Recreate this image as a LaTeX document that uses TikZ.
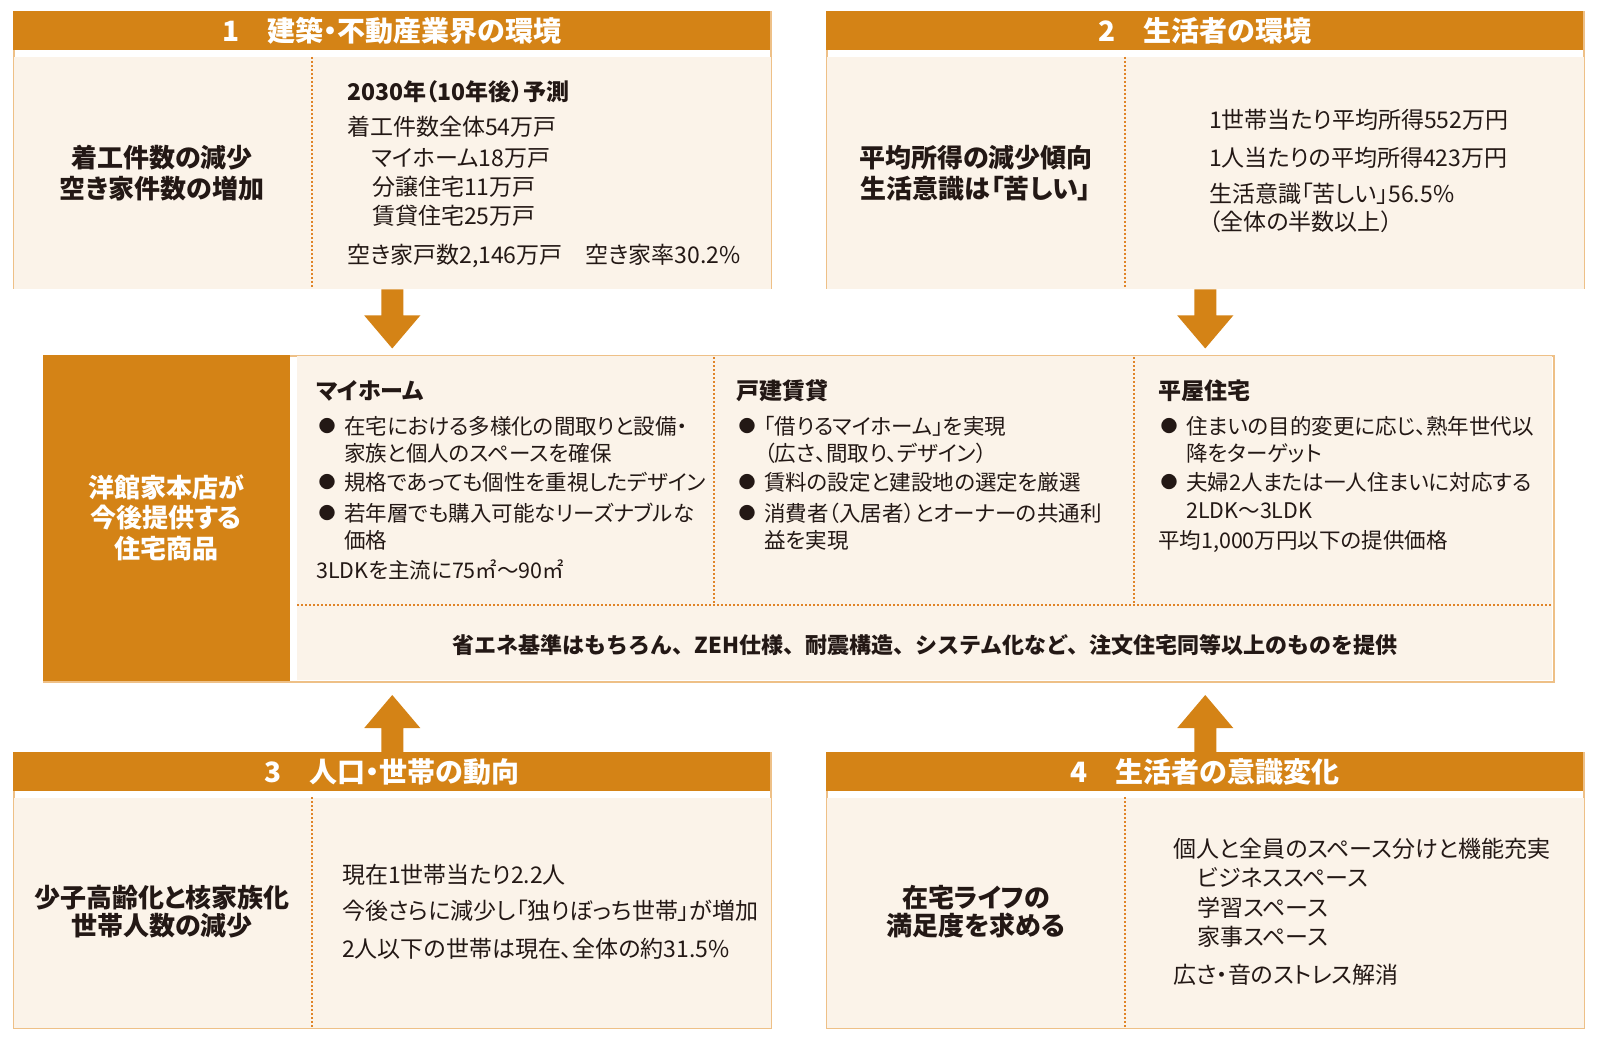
\documentclass[tikz,border=0pt]{standalone}
\usepackage{fontspec}
\setmainfont{Noto Sans CJK JP}[RawFeature={+palt}]
\newfontfamily\jpfull{Noto Sans CJK JP}
\usetikzlibrary{calc}
\definecolor{org}{RGB}{212,131,22}
\definecolor{cream}{RGB}{251,243,233}
\definecolor{bord}{RGB}{238,192,135}
\definecolor{dotc}{RGB}{224,132,40}
\definecolor{ink}{RGB}{35,24,21}
\tikzset{
 tx/.style={inner sep=0pt, text=ink},
 hdrt/.style={tx, text=white, font=\fontsize{28}{30}\selectfont\bfseries, text height=24.6pt, text depth=3.4pt},
 keyt/.style={tx, font=\fontsize{26}{30}\selectfont\bfseries, text height=22.9pt, text depth=3.1pt},
 boxt/.style={tx, anchor=west, font=\fontsize{23}{28}\selectfont, text height=20.2pt, text depth=2.8pt},
 boxtb/.style={tx, anchor=west, font=\fontsize{23}{28}\selectfont\bfseries, text height=20.2pt, text depth=2.8pt},
 colt/.style={tx, anchor=west, font=\fontsize{21.5}{26}\selectfont, text height=18.9pt, text depth=2.6pt},
 colhd/.style={tx, anchor=west, font=\fontsize{23}{28}\selectfont\bfseries, text height=20.2pt, text depth=2.8pt},
 bul/.style={tx, font=\fontsize{17}{20}\selectfont, text height=15pt, text depth=2pt},
 pnlt/.style={tx, text=white, font=\fontsize{26}{30}\selectfont\bfseries, text height=22.9pt, text depth=3.1pt},
 btmt/.style={tx, font=\jpfull\fontsize{22}{26}\selectfont\bfseries, text height=19.4pt, text depth=2.6pt},
 frame/.style={draw=bord, line width=1.5pt, fill=white, inner sep=0pt, anchor=north west, minimum width=757pt, minimum height=277pt},
 hband/.style={fill=org, inner sep=0pt, anchor=north west, minimum width=757pt, minimum height=39pt},
 dotl/.style={dotc, line width=1.6pt, dash pattern=on 1.6pt off 2.4pt},
 downarr/.pic={\fill[org] (-11,0) -- (11,0) -- (11,26) -- (28,26) -- (0,59) -- (-28,26) -- (-11,26) -- cycle;},
 uparr/.pic={\fill[org] (-11,0) -- (11,0) -- (11,-24) -- (28,-24) -- (0,-57) -- (-28,-24) -- (-11,-24) -- cycle;},
}
\begin{document}
\begin{tikzpicture}[x=1pt,y=-1pt]
\useasboundingbox (0,0) rectangle (1600,1040);
% ---------- frames ----------
\node[frame] (b1) at (13,11) {};
\node[frame] (b2) at (826,11) {};
\node[frame, minimum height=275pt] (b3) at (13,752) {};
\node[frame, minimum height=275pt] (b4) at (826,752) {};
\foreach \b in {b1,b2,b3,b4}{
  \fill[cream] ($(\b.north west)+(0.8,46)$) rectangle ($(\b.south east)+(-0.8,-0.8)$);
}
\node[hband] (h1) at (b1.north west) {};
\node[hband] (h2) at (b2.north west) {};
\node[hband] (h3) at (b3.north west) {};
\node[hband] (h4) at (b4.north west) {};
\draw[dotl] (312,57) -- (312,288);
\draw[dotl] (1125,57) -- (1125,288);
\draw[dotl] (312,797) -- (312,1027);
\draw[dotl] (1125,797) -- (1125,1027);
% headers
\node[hdrt] (t1) at (h1.center) {1　建築・不動産業界の環境};
\node[hdrt] (t2) at (h2.center) {2　生活者の環境};
\node[hdrt] (t3) at (h3.center) {3　人口・世帯の動向};
\node[hdrt] (t4) at (h4.center) {4　生活者の意識変化};
% ---------- box 1 ----------
\node[keyt] (k1a) at (162,158) {着工件数の減少};
\node[keyt] (k1b) at (162,189) {空き家件数の増加};
\node[boxtb] (r1a) at (347,92) {2030年（10年後）予測};
\node[boxt] (r1b) at (347,127) {着工件数全体54万戸};
\node[boxt] (r1c) at (372,158) {マイホーム18万戸};
\node[boxt] (r1d) at (372,187) {分譲住宅11万戸};
\node[boxt] (r1e) at (372,216) {賃貸住宅25万戸};
\node[boxt] (r1f) at (347,255) {空き家戸数2,146万戸　空き家率30.2\%};
% ---------- box 2 ----------
\node[keyt] (k2a) at (976,158) {平均所得の減少傾向};
\node[keyt] (k2b) at (976,189) {生活意識は「苦しい」};
\node[boxt] (r2a) at (1209,120) {1世帯当たり平均所得552万円};
\node[boxt] (r2b) at (1209,158) {1人当たりの平均所得423万円};
\node[boxt] (r2c) at (1209,194) {生活意識「苦しい」56.5\%};
\node[boxt] (r2d) at (1209,222) {（全体の半数以上）};
% ---------- box 3 ----------
\node[keyt] (k3a) at (162,898) {少子高齢化と核家族化};
\node[keyt] (k3b) at (162,926) {世帯人数の減少};
\node[boxt] (r3a) at (342,875) {現在1世帯当たり2.2人};
\node[boxt] (r3b) at (342,911) {今後さらに減少し「独りぼっち世帯」が増加};
\node[boxt] (r3c) at (342,949) {2人以下の世帯は現在、全体の約31.5\%};
% ---------- box 4 ----------
\node[keyt] (k4a) at (976,898) {在宅ライフの};
\node[keyt] (k4b) at (976,926) {満足度を求める};
\node[boxt] (r4a) at (1173,849) {個人と全員のスペース分けと機能充実};
\node[boxt] (r4b) at (1197,878) {ビジネススペース};
\node[boxt] (r4c) at (1197,908) {学習スペース};
\node[boxt] (r4d) at (1197,937) {家事スペース};
\node[boxt] (r4e) at (1173,975) {広さ・音のストレス解消};
% ---------- middle ----------
\node[frame, minimum width=1510pt, minimum height=326pt] (mid) at (43,355) {};
\fill[cream] (297,356) rectangle (1552,680);
\node[fill=org, inner sep=0pt, anchor=north west, minimum width=247pt, minimum height=326pt] (pnl) at (mid.north west) {};
\draw[dotl] (714,357) -- (714,605);
\draw[dotl] (1134,357) -- (1134,605);
\draw[dotl] (297,605) -- (1552,605);
\node[pnlt] (p1) at (166,488) {洋館家本店が};
\node[pnlt] (p2) at (166,518) {今後提供する};
\node[pnlt] (p3) at (166,549) {住宅商品};
% column 1
\node[colhd] (c1h) at (316,391) {マイホーム};
\node[bul] (c1b1) at (327,426) {●};
\node[colt] (c1a) at (344,426) {在宅における多様化の間取りと設備・};
\node[colt] (c1b) at (344,453) {家族と個人のスペースを確保};
\node[bul] (c1b2) at (327,482) {●};
\node[colt] (c1c) at (344,482) {規格であっても個性を重視したデザイン};
\node[bul] (c1b3) at (327,513) {●};
\node[colt] (c1d) at (344,513) {若年層でも購入可能なリーズナブルな};
\node[colt] (c1e) at (344,540) {価格};
\node[colt] (c1f) at (316,570) {3LDKを主流に75㎡～90㎡};
% column 2
\node[colhd] (c2h) at (736,391) {戸建賃貸};
\node[bul] (c2b1) at (747,426) {●};
\node[colt] (c2a) at (764,426) {「借りるマイホーム」を実現};
\node[colt] (c2b) at (764,453) {（広さ、間取り、デザイン）};
\node[bul] (c2b2) at (747,482) {●};
\node[colt] (c2c) at (764,482) {賃料の設定と建設地の選定を厳選};
\node[bul] (c2b3) at (747,513) {●};
\node[colt] (c2d) at (764,513) {消費者（入居者）とオーナーの共通利};
\node[colt] (c2e) at (764,540) {益を実現};
% column 3
\node[colhd] (c3h) at (1158,391) {平屋住宅};
\node[bul] (c3b1) at (1169,426) {●};
\node[colt] (c3a) at (1186,426) {住まいの目的変更に応じ、熟年世代以};
\node[colt] (c3b) at (1186,453) {降をターゲット};
\node[bul] (c3b2) at (1169,482) {●};
\node[colt] (c3c) at (1186,482) {夫婦2人または一人住まいに対応する};
\node[colt] (c3d) at (1186,510) {2LDK～3LDK};
\node[colt] (c3e) at (1158,540) {平均1,000万円以下の提供価格};
% bottom line
\node[btmt] (btm) at (925,645) {省エネ基準はもちろん、ZEH仕様、耐震構造、システム化など、注文住宅同等以上のものを提供};
% ---------- arrows ----------
\pic at (b1.south) {downarr};
\pic at (b2.south) {downarr};
\pic at (b3.north) {uparr};
\pic at (b4.north) {uparr};
\end{tikzpicture}
\end{document}
